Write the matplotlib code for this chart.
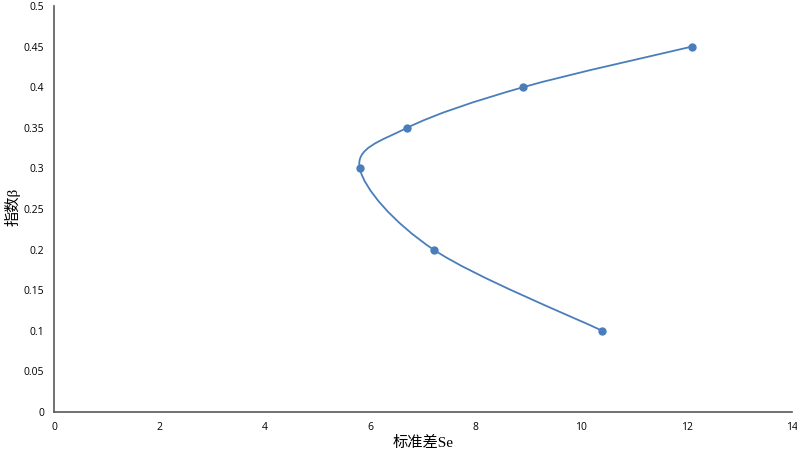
import matplotlib
matplotlib.use("Agg")
import matplotlib.pyplot as plt
from matplotlib.path import Path
from matplotlib.patches import PathPatch
import numpy as np

se = [10.4, 7.2, 5.8, 6.7, 8.9, 12.1]
beta = [0.1, 0.2, 0.3, 0.35, 0.4, 0.45]
xticks = [0, 2, 4, 6, 8, 10, 12, 14]
yticks = [0, 0.05, 0.1, 0.15, 0.2, 0.25, 0.3, 0.35, 0.4, 0.45, 0.5]
xlabel = "标准差Se"
ylabel = "指数β"
color = "#4A7EBB"

fig = plt.figure(figsize=(7.97, 4.5), dpi=100)
ax = fig.add_axes([54/797, 38/450, (792-54)/797, (412-6)/450])
ax.set_xlim(0, 14)
ax.set_ylim(0, 0.5)

# Excel-like smoothed line (Catmull-Rom as cubic Bezier)
P = np.column_stack([se, beta])
n = len(P)
verts = [tuple(P[0])]
codes = [Path.MOVETO]
for i in range(n - 1):
    p0 = P[i - 1] if i > 0 else P[i]
    p1 = P[i]
    p2 = P[i + 1]
    p3 = P[i + 2] if i + 2 < n else P[i + 1]
    c1 = p1 + (p2 - p0) / 6
    c2 = p2 - (p3 - p1) / 6
    verts += [tuple(c1), tuple(c2), tuple(p2)]
    codes += [Path.CURVE4] * 3
ax.add_patch(PathPatch(Path(verts, codes), facecolor="none", edgecolor=color, lw=1.3, zorder=2))
ax.plot(se, beta, 'o', color=color, ms=5, zorder=3)

ax.set_xticks(xticks)
ax.set_yticks(yticks)
ax.set_xticklabels([str(t) for t in xticks], fontfamily="Open Sans", fontsize=7.5)
ax.set_yticklabels([f"{t:g}" for t in yticks], fontfamily="Open Sans", fontsize=7.5)
ax.tick_params(length=0, pad=7)
for s in ["top", "right"]:
    ax.spines[s].set_visible(False)
for s in ["left", "bottom"]:
    ax.spines[s].set_color("#595959")
    ax.spines[s].set_linewidth(1.2)

ax.set_xlabel(xlabel, family=["Liberation Serif", "Noto Sans CJK SC"], fontsize=11, labelpad=2)
fig.text(12/797, 1 - 207/450, ylabel, rotation=90, ha="center", va="center",
         family=["Liberation Serif", "Noto Sans CJK SC"], fontsize=11)

fig.savefig("out.png", dpi=100)
